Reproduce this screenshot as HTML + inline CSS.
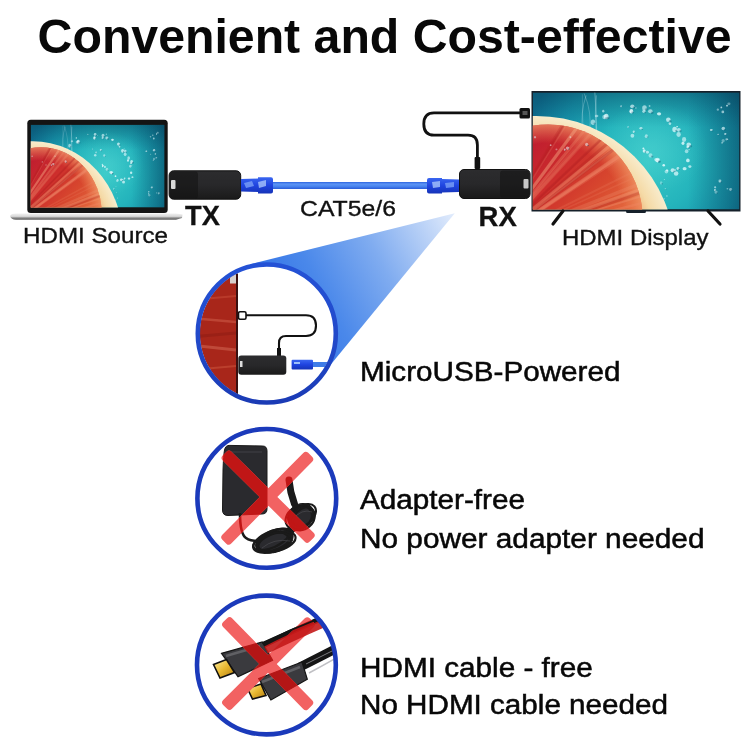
<!DOCTYPE html>
<html><head><meta charset="utf-8">
<style>
html,body{margin:0;padding:0;background:#fff;width:750px;height:750px;overflow:hidden}
svg{display:block;filter:blur(0.45px)}
text{font-family:"Liberation Sans",sans-serif}
</style></head>
<body>
<svg width="750" height="750" viewBox="0 0 750 750">
<defs>
  <radialGradient id="teal" gradientUnits="userSpaceOnUse" cx="115" cy="70" r="125">
    <stop offset="0" stop-color="#36c8c6"/>
    <stop offset="0.4" stop-color="#24b4bc"/>
    <stop offset="0.75" stop-color="#1692aa"/>
    <stop offset="1" stop-color="#0e6e90"/>
  </radialGradient>
  <linearGradient id="tealdark" x1="0" y1="0" x2="0" y2="1">
    <stop offset="0" stop-color="#05324a" stop-opacity="0.35"/>
    <stop offset="0.3" stop-color="#06455f" stop-opacity="0"/>
  </linearGradient>
  <linearGradient id="tealdarkR" x1="0" y1="0" x2="1" y2="0">
    <stop offset="0.75" stop-color="#06455f" stop-opacity="0"/>
    <stop offset="1" stop-color="#05324a" stop-opacity="0.4"/>
  </linearGradient>
  <radialGradient id="rind" gradientUnits="userSpaceOnUse" cx="3.5" cy="162.5" r="139">
    <stop offset="0.82" stop-color="#f0c088"/>
    <stop offset="0.88" stop-color="#f5daa6"/>
    <stop offset="1" stop-color="#f8eccc"/>
  </radialGradient>
  <linearGradient id="flesh" gradientUnits="userSpaceOnUse" x1="0" y1="35" x2="90" y2="117">
    <stop offset="0" stop-color="#bc1a30"/>
    <stop offset="0.4" stop-color="#cc2c2c"/>
    <stop offset="0.75" stop-color="#d8482e"/>
    <stop offset="1" stop-color="#e2643c"/>
  </linearGradient>
  <radialGradient id="fleshedge" gradientUnits="userSpaceOnUse" cx="15.5" cy="126.5" r="94.5">
    <stop offset="0.8" stop-color="#f08858" stop-opacity="0"/>
    <stop offset="1" stop-color="#f29a68" stop-opacity="0.7"/>
  </radialGradient>
  <radialGradient id="glow">
    <stop offset="0" stop-color="#5ad8d8" stop-opacity="0.35"/>
    <stop offset="1" stop-color="#5ad8d8" stop-opacity="0"/>
  </radialGradient>
  <clipPath id="fleshclip"><circle cx="15.5" cy="126.5" r="94.5"/></clipPath>
  <linearGradient id="cone" x1="455" y1="214" x2="262" y2="318" gradientUnits="userSpaceOnUse">
    <stop offset="0" stop-color="#e2ecfc"/>
    <stop offset="0.15" stop-color="#bcd3f7"/>
    <stop offset="0.4" stop-color="#80acf0"/>
    <stop offset="0.7" stop-color="#4a88ea"/>
    <stop offset="1" stop-color="#2e6ee6"/>
  </linearGradient>
  <linearGradient id="ring1" gradientUnits="userSpaceOnUse" x1="0" y1="262" x2="0" y2="405">
    <stop offset="0" stop-color="#2452d6"/>
    <stop offset="0.6" stop-color="#2148c8"/>
    <stop offset="1" stop-color="#1a3ab4"/>
  </linearGradient>
  <linearGradient id="box" x1="0" y1="0" x2="0" y2="1">
    <stop offset="0" stop-color="#2c2c2e"/>
    <stop offset="0.5" stop-color="#28282a"/>
    <stop offset="1" stop-color="#1a1a1a"/>
  </linearGradient>
  <linearGradient id="base" x1="0" y1="0" x2="0" y2="1">
    <stop offset="0" stop-color="#f0f0f0"/>
    <stop offset="0.45" stop-color="#d8d8d8"/>
    <stop offset="0.7" stop-color="#8a8a8a"/>
    <stop offset="1" stop-color="#5a5a5a"/>
  </linearGradient>
  <linearGradient id="rj" x1="0" y1="0" x2="0" y2="1">
    <stop offset="0" stop-color="#3a66f0"/>
    <stop offset="0.5" stop-color="#1f44e0"/>
    <stop offset="1" stop-color="#1634b8"/>
  </linearGradient>
  <linearGradient id="cab" x1="0" y1="0" x2="0" y2="1">
    <stop offset="0" stop-color="#2c64e0"/>
    <stop offset="0.3" stop-color="#5c94f4"/>
    <stop offset="0.6" stop-color="#4a86f0"/>
    <stop offset="1" stop-color="#2a5cd8"/>
  </linearGradient>
  <linearGradient id="gold" x1="0" y1="0" x2="1" y2="1">
    <stop offset="0" stop-color="#fff0a0"/>
    <stop offset="0.5" stop-color="#e8b830"/>
    <stop offset="1" stop-color="#b07a10"/>
  </linearGradient>
  <g id="pic">
<rect x="0" y="0" width="207" height="117.5" fill="url(#teal)"/>
<rect x="0" y="0" width="207" height="117.5" fill="url(#tealdark)"/>
<rect x="0" y="0" width="207" height="117.5" fill="url(#tealdarkR)"/>
<ellipse cx="120" cy="55" rx="55" ry="45" fill="url(#glow)"/>
<ellipse cx="73.6" cy="24.1" rx="2.3" ry="2.8" fill="#eafcff" fill-opacity="0.75"/>
<ellipse cx="75.5" cy="25.5" rx="1.4" ry="1.2" fill="#074a66" fill-opacity="0.35"/>
<ellipse cx="71.8" cy="24.5" rx="2.2" ry="2.2" fill="#eafcff" fill-opacity="0.50"/>
<ellipse cx="73.6" cy="25.9" rx="1.3" ry="1.1" fill="#074a66" fill-opacity="0.35"/>
<ellipse cx="70.6" cy="18.7" rx="1.1" ry="1.4" fill="#eafcff" fill-opacity="0.56"/>
<ellipse cx="63.9" cy="23.5" rx="1.8" ry="1.3" fill="#eafcff" fill-opacity="0.50"/>
<ellipse cx="60.3" cy="29.8" rx="2.2" ry="2.7" fill="#eafcff" fill-opacity="0.57"/>
<ellipse cx="62.1" cy="31.1" rx="1.3" ry="1.1" fill="#074a66" fill-opacity="0.35"/>
<ellipse cx="98.7" cy="18.8" rx="1.9" ry="2.3" fill="#eafcff" fill-opacity="0.84"/>
<ellipse cx="100.2" cy="20.0" rx="1.1" ry="1.0" fill="#074a66" fill-opacity="0.35"/>
<ellipse cx="88.5" cy="13.7" rx="0.9" ry="1.0" fill="#eafcff" fill-opacity="0.57"/>
<ellipse cx="89.2" cy="14.3" rx="0.5" ry="0.5" fill="#074a66" fill-opacity="0.35"/>
<ellipse cx="99.7" cy="13.8" rx="2.1" ry="1.9" fill="#eafcff" fill-opacity="0.64"/>
<ellipse cx="101.4" cy="15.0" rx="1.3" ry="1.1" fill="#074a66" fill-opacity="0.35"/>
<ellipse cx="98.3" cy="19.0" rx="0.8" ry="1.0" fill="#eafcff" fill-opacity="0.75"/>
<ellipse cx="99.0" cy="19.5" rx="0.5" ry="0.4" fill="#074a66" fill-opacity="0.35"/>
<ellipse cx="103.3" cy="15.5" rx="0.8" ry="0.7" fill="#eafcff" fill-opacity="0.47"/>
<ellipse cx="117.8" cy="18.8" rx="2.3" ry="2.1" fill="#eafcff" fill-opacity="0.59"/>
<ellipse cx="119.6" cy="20.2" rx="1.4" ry="1.2" fill="#074a66" fill-opacity="0.35"/>
<ellipse cx="126.5" cy="21.4" rx="2.1" ry="1.6" fill="#eafcff" fill-opacity="0.79"/>
<ellipse cx="111.9" cy="15.5" rx="2.3" ry="2.8" fill="#eafcff" fill-opacity="0.59"/>
<ellipse cx="113.7" cy="16.9" rx="1.4" ry="1.1" fill="#074a66" fill-opacity="0.35"/>
<ellipse cx="117.0" cy="13.6" rx="0.9" ry="1.0" fill="#eafcff" fill-opacity="0.51"/>
<ellipse cx="111.3" cy="19.0" rx="1.7" ry="1.4" fill="#eafcff" fill-opacity="0.61"/>
<ellipse cx="112.6" cy="20.0" rx="1.0" ry="0.8" fill="#074a66" fill-opacity="0.35"/>
<ellipse cx="144.6" cy="34.4" rx="0.9" ry="0.7" fill="#eafcff" fill-opacity="0.82"/>
<ellipse cx="145.3" cy="35.0" rx="0.5" ry="0.4" fill="#074a66" fill-opacity="0.35"/>
<ellipse cx="142.1" cy="37.1" rx="2.3" ry="2.7" fill="#eafcff" fill-opacity="0.70"/>
<ellipse cx="144.0" cy="38.5" rx="1.4" ry="1.2" fill="#074a66" fill-opacity="0.35"/>
<ellipse cx="137.4" cy="31.1" rx="1.3" ry="1.6" fill="#eafcff" fill-opacity="0.63"/>
<ellipse cx="146.3" cy="37.5" rx="2.0" ry="1.8" fill="#eafcff" fill-opacity="0.64"/>
<ellipse cx="147.9" cy="38.7" rx="1.2" ry="1.0" fill="#074a66" fill-opacity="0.35"/>
<ellipse cx="135.8" cy="27.4" rx="2.3" ry="2.3" fill="#eafcff" fill-opacity="0.70"/>
<ellipse cx="137.6" cy="28.8" rx="1.4" ry="1.2" fill="#074a66" fill-opacity="0.35"/>
<ellipse cx="146.1" cy="42.1" rx="2.2" ry="2.5" fill="#eafcff" fill-opacity="0.59"/>
<ellipse cx="155.3" cy="54.7" rx="1.4" ry="1.2" fill="#eafcff" fill-opacity="0.73"/>
<ellipse cx="156.4" cy="55.5" rx="0.8" ry="0.7" fill="#074a66" fill-opacity="0.35"/>
<ellipse cx="156.2" cy="52.5" rx="2.3" ry="2.4" fill="#eafcff" fill-opacity="0.71"/>
<ellipse cx="158.1" cy="53.9" rx="1.4" ry="1.2" fill="#074a66" fill-opacity="0.35"/>
<ellipse cx="150.5" cy="50.9" rx="1.5" ry="1.7" fill="#eafcff" fill-opacity="0.78"/>
<ellipse cx="151.6" cy="47.2" rx="2.1" ry="2.5" fill="#eafcff" fill-opacity="0.59"/>
<ellipse cx="157.4" cy="74.4" rx="1.6" ry="1.4" fill="#eafcff" fill-opacity="0.66"/>
<ellipse cx="152.1" cy="76.5" rx="2.0" ry="1.6" fill="#eafcff" fill-opacity="0.74"/>
<ellipse cx="155.4" cy="68.2" rx="1.8" ry="1.9" fill="#eafcff" fill-opacity="0.76"/>
<ellipse cx="154.1" cy="59.0" rx="1.8" ry="2.0" fill="#eafcff" fill-opacity="0.54"/>
<ellipse cx="156.6" cy="57.5" rx="0.9" ry="0.8" fill="#eafcff" fill-opacity="0.50"/>
<ellipse cx="157.3" cy="58.1" rx="0.5" ry="0.4" fill="#074a66" fill-opacity="0.35"/>
<ellipse cx="145.4" cy="76.3" rx="1.4" ry="1.5" fill="#eafcff" fill-opacity="0.69"/>
<ellipse cx="146.5" cy="77.1" rx="0.8" ry="0.7" fill="#074a66" fill-opacity="0.35"/>
<ellipse cx="134.5" cy="78.0" rx="1.2" ry="1.0" fill="#eafcff" fill-opacity="0.61"/>
<ellipse cx="142.7" cy="78.0" rx="1.0" ry="0.9" fill="#eafcff" fill-opacity="0.67"/>
<ellipse cx="143.4" cy="78.6" rx="0.6" ry="0.5" fill="#074a66" fill-opacity="0.35"/>
<ellipse cx="140.2" cy="78.2" rx="2.1" ry="2.0" fill="#eafcff" fill-opacity="0.71"/>
<ellipse cx="141.9" cy="79.5" rx="1.3" ry="1.1" fill="#074a66" fill-opacity="0.35"/>
<ellipse cx="143.6" cy="81.4" rx="2.3" ry="2.2" fill="#eafcff" fill-opacity="0.69"/>
<ellipse cx="133.9" cy="79.5" rx="1.8" ry="1.9" fill="#eafcff" fill-opacity="0.51"/>
<ellipse cx="131.2" cy="73.1" rx="1.3" ry="1.2" fill="#eafcff" fill-opacity="0.84"/>
<ellipse cx="125.0" cy="67.9" rx="2.4" ry="2.3" fill="#eafcff" fill-opacity="0.65"/>
<ellipse cx="126.9" cy="69.4" rx="1.4" ry="1.2" fill="#074a66" fill-opacity="0.35"/>
<ellipse cx="123.2" cy="67.4" rx="1.6" ry="1.7" fill="#eafcff" fill-opacity="0.50"/>
<ellipse cx="124.4" cy="68.4" rx="0.9" ry="0.8" fill="#074a66" fill-opacity="0.35"/>
<ellipse cx="135.2" cy="78.7" rx="0.8" ry="0.7" fill="#eafcff" fill-opacity="0.66"/>
<ellipse cx="110.8" cy="56.2" rx="1.0" ry="0.9" fill="#eafcff" fill-opacity="0.85"/>
<ellipse cx="118.0" cy="63.2" rx="2.0" ry="2.2" fill="#eafcff" fill-opacity="0.50"/>
<ellipse cx="119.6" cy="64.4" rx="1.2" ry="1.0" fill="#074a66" fill-opacity="0.35"/>
<ellipse cx="114.8" cy="59.9" rx="1.6" ry="1.5" fill="#eafcff" fill-opacity="0.64"/>
<ellipse cx="111.6" cy="58.7" rx="1.5" ry="1.8" fill="#eafcff" fill-opacity="0.82"/>
<ellipse cx="112.8" cy="59.7" rx="0.9" ry="0.8" fill="#074a66" fill-opacity="0.35"/>
<ellipse cx="125.0" cy="68.2" rx="1.7" ry="1.8" fill="#eafcff" fill-opacity="0.73"/>
<ellipse cx="126.4" cy="69.3" rx="1.0" ry="0.9" fill="#074a66" fill-opacity="0.35"/>
<ellipse cx="192.9" cy="41.6" rx="1.2" ry="1.0" fill="#eafcff" fill-opacity="0.69"/>
<ellipse cx="193.8" cy="42.3" rx="0.7" ry="0.6" fill="#074a66" fill-opacity="0.35"/>
<ellipse cx="190.9" cy="36.1" rx="1.8" ry="1.7" fill="#eafcff" fill-opacity="0.63"/>
<ellipse cx="192.4" cy="37.2" rx="1.1" ry="0.9" fill="#074a66" fill-opacity="0.35"/>
<ellipse cx="189.7" cy="50.5" rx="0.9" ry="0.9" fill="#eafcff" fill-opacity="0.54"/>
<ellipse cx="190.4" cy="51.0" rx="0.5" ry="0.4" fill="#074a66" fill-opacity="0.35"/>
<ellipse cx="178.9" cy="37.6" rx="1.5" ry="1.1" fill="#eafcff" fill-opacity="0.67"/>
<ellipse cx="180.1" cy="38.5" rx="0.9" ry="0.7" fill="#074a66" fill-opacity="0.35"/>
<ellipse cx="190.7" cy="48.5" rx="1.6" ry="1.7" fill="#eafcff" fill-opacity="0.36"/>
<ellipse cx="195.0" cy="46.9" rx="0.8" ry="0.7" fill="#eafcff" fill-opacity="0.69"/>
<ellipse cx="193.9" cy="47.1" rx="0.9" ry="1.1" fill="#eafcff" fill-opacity="0.47"/>
<ellipse cx="194.6" cy="47.6" rx="0.5" ry="0.4" fill="#074a66" fill-opacity="0.35"/>
<ellipse cx="185.7" cy="42.0" rx="0.9" ry="0.7" fill="#eafcff" fill-opacity="0.60"/>
<ellipse cx="186.4" cy="42.6" rx="0.5" ry="0.5" fill="#074a66" fill-opacity="0.35"/>
<ellipse cx="187.6" cy="89.2" rx="0.8" ry="0.9" fill="#eafcff" fill-opacity="0.58"/>
<ellipse cx="182.7" cy="95.3" rx="1.1" ry="1.1" fill="#eafcff" fill-opacity="0.59"/>
<ellipse cx="187.5" cy="88.9" rx="1.6" ry="1.7" fill="#eafcff" fill-opacity="0.41"/>
<ellipse cx="188.8" cy="89.9" rx="1.0" ry="0.8" fill="#074a66" fill-opacity="0.35"/>
<ellipse cx="198.2" cy="97.4" rx="1.5" ry="1.5" fill="#eafcff" fill-opacity="0.46"/>
<ellipse cx="199.4" cy="98.3" rx="0.9" ry="0.8" fill="#074a66" fill-opacity="0.35"/>
<ellipse cx="195.0" cy="96.8" rx="0.9" ry="0.8" fill="#eafcff" fill-opacity="0.44"/>
<ellipse cx="183.6" cy="100.1" rx="1.6" ry="1.7" fill="#eafcff" fill-opacity="0.38"/>
<ellipse cx="184.8" cy="101.1" rx="0.9" ry="0.8" fill="#074a66" fill-opacity="0.35"/>
<ellipse cx="182.5" cy="98.1" rx="1.0" ry="1.0" fill="#eafcff" fill-opacity="0.70"/>
<ellipse cx="183.3" cy="98.7" rx="0.6" ry="0.5" fill="#074a66" fill-opacity="0.35"/>
<ellipse cx="196.5" cy="11.3" rx="1.6" ry="1.4" fill="#eafcff" fill-opacity="0.37"/>
<ellipse cx="194.6" cy="13.2" rx="0.9" ry="0.9" fill="#eafcff" fill-opacity="0.74"/>
<ellipse cx="185.4" cy="17.2" rx="1.2" ry="1.1" fill="#eafcff" fill-opacity="0.44"/>
<ellipse cx="188.9" cy="14.9" rx="0.9" ry="0.9" fill="#eafcff" fill-opacity="0.68"/>
<ellipse cx="190.4" cy="19.5" rx="1.4" ry="1.4" fill="#eafcff" fill-opacity="0.59"/>
<ellipse cx="131.9" cy="87.4" rx="0.7" ry="0.6" fill="#eafcff" fill-opacity="0.43"/>
<ellipse cx="134.4" cy="104.0" rx="0.7" ry="0.8" fill="#eafcff" fill-opacity="0.54"/>
<ellipse cx="132.9" cy="96.6" rx="0.8" ry="0.7" fill="#eafcff" fill-opacity="0.41"/>
<ellipse cx="133.5" cy="97.1" rx="0.5" ry="0.4" fill="#074a66" fill-opacity="0.35"/>
<ellipse cx="131.6" cy="107.0" rx="0.9" ry="0.8" fill="#eafcff" fill-opacity="0.45"/>
<ellipse cx="132.3" cy="107.5" rx="0.5" ry="0.4" fill="#074a66" fill-opacity="0.35"/>
<ellipse cx="128.6" cy="90.9" rx="1.3" ry="1.6" fill="#eafcff" fill-opacity="0.36"/>
<ellipse cx="129.7" cy="91.7" rx="0.8" ry="0.7" fill="#074a66" fill-opacity="0.35"/>
<ellipse cx="113.8" cy="43.8" rx="1.6" ry="1.9" fill="#eafcff" fill-opacity="0.54"/>
<ellipse cx="115.0" cy="44.7" rx="0.9" ry="0.8" fill="#074a66" fill-opacity="0.35"/>
<ellipse cx="108.4" cy="35.8" rx="1.6" ry="1.3" fill="#eafcff" fill-opacity="0.64"/>
<ellipse cx="109.6" cy="36.8" rx="0.9" ry="0.8" fill="#074a66" fill-opacity="0.35"/>
<ellipse cx="95.5" cy="34.6" rx="0.8" ry="1.0" fill="#eafcff" fill-opacity="0.51"/>
<ellipse cx="96.1" cy="35.1" rx="0.5" ry="0.4" fill="#074a66" fill-opacity="0.35"/>
<ellipse cx="101.2" cy="39.4" rx="1.1" ry="1.2" fill="#eafcff" fill-opacity="0.64"/>
<ellipse cx="102.1" cy="40.0" rx="0.6" ry="0.5" fill="#074a66" fill-opacity="0.35"/>
<ellipse cx="99.8" cy="43.4" rx="1.9" ry="1.9" fill="#eafcff" fill-opacity="0.61"/>
<path d="M50.1,40 Q47.5,20 53.4,2.9" fill="none" stroke="#e8fbff" stroke-opacity="0.26" stroke-width="1.0"/>
<path d="M63.9,40 Q64.0,20 62.1,-0.9" fill="none" stroke="#e8fbff" stroke-opacity="0.27" stroke-width="1.2"/>
<path d="M56.9,40 Q59.5,20 51.5,0.9" fill="none" stroke="#e8fbff" stroke-opacity="0.26" stroke-width="0.9"/>
<path d="M50.8,40 Q49.4,20 49.7,1.7" fill="none" stroke="#e8fbff" stroke-opacity="0.26" stroke-width="0.6"/>
<path d="M63.6,40 Q61.7,20 63.7,2.8" fill="none" stroke="#e8fbff" stroke-opacity="0.38" stroke-width="0.7"/>
<circle cx="3.5" cy="162.5" r="139" fill="url(#rind)"/>
<circle cx="15.5" cy="126.5" r="94.5" fill="url(#flesh)"/>
<circle cx="15.5" cy="126.5" r="94.5" fill="url(#fleshedge)"/>
<g clip-path="url(#fleshclip)">
<line x1="-16.2" y1="131.8" x2="118.9" y2="28.5" stroke="#f49a78" stroke-width="1.7" stroke-opacity="0.35"/>
<line x1="-20.1" y1="127.6" x2="92.9" y2="0.6" stroke="#f49a78" stroke-width="3.6" stroke-opacity="0.19"/>
<line x1="-24.4" y1="124.4" x2="63.8" y2="-21.0" stroke="#b01c20" stroke-width="2.4" stroke-opacity="0.23"/>
<line x1="-10.1" y1="147.5" x2="159.3" y2="133.6" stroke="#b01c20" stroke-width="3.1" stroke-opacity="0.30"/>
<line x1="-10.2" y1="153.0" x2="159.0" y2="170.0" stroke="#f6a884" stroke-width="3.2" stroke-opacity="0.33"/>
<line x1="-10.7" y1="156.2" x2="155.6" y2="191.5" stroke="#b01c20" stroke-width="1.8" stroke-opacity="0.21"/>
<line x1="-22.2" y1="125.8" x2="78.4" y2="-11.2" stroke="#f6a884" stroke-width="3.5" stroke-opacity="0.21"/>
<line x1="-21.0" y1="126.8" x2="86.8" y2="-4.7" stroke="#f49a78" stroke-width="2.7" stroke-opacity="0.29"/>
<line x1="-10.0" y1="148.7" x2="159.8" y2="141.3" stroke="#b01c20" stroke-width="3.2" stroke-opacity="0.21"/>
<line x1="-12.7" y1="137.5" x2="142.0" y2="67.0" stroke="#f08a68" stroke-width="1.6" stroke-opacity="0.19"/>
<line x1="-16.8" y1="131.0" x2="114.5" y2="23.0" stroke="#f6a884" stroke-width="3.7" stroke-opacity="0.16"/>
<line x1="-10.1" y1="147.6" x2="159.4" y2="134.0" stroke="#a01418" stroke-width="3.4" stroke-opacity="0.26"/>
<line x1="-10.1" y1="152.4" x2="159.4" y2="165.8" stroke="#f08a68" stroke-width="2.9" stroke-opacity="0.24"/>
<line x1="-10.0" y1="149.4" x2="160.0" y2="145.8" stroke="#f49a78" stroke-width="3.3" stroke-opacity="0.29"/>
<line x1="-17.3" y1="130.4" x2="111.6" y2="19.5" stroke="#a01418" stroke-width="2.9" stroke-opacity="0.21"/>
<line x1="-16.3" y1="131.6" x2="117.7" y2="27.0" stroke="#f08a68" stroke-width="2.2" stroke-opacity="0.29"/>
<line x1="-16.8" y1="130.9" x2="114.5" y2="22.9" stroke="#f49a78" stroke-width="2.9" stroke-opacity="0.30"/>
<line x1="-24.1" y1="124.6" x2="66.0" y2="-19.6" stroke="#f49a78" stroke-width="1.6" stroke-opacity="0.18"/>
<line x1="-15.2" y1="133.1" x2="125.2" y2="37.3" stroke="#f6a884" stroke-width="3.9" stroke-opacity="0.27"/>
<line x1="-18.2" y1="129.4" x2="105.4" y2="12.7" stroke="#a01418" stroke-width="1.8" stroke-opacity="0.19"/>
<line x1="-15.2" y1="133.1" x2="125.4" y2="37.6" stroke="#f08a68" stroke-width="3.0" stroke-opacity="0.32"/>
<line x1="-10.3" y1="146.0" x2="158.2" y2="123.3" stroke="#f49a78" stroke-width="2.2" stroke-opacity="0.27"/>
<line x1="-11.0" y1="142.4" x2="153.5" y2="99.6" stroke="#f08a68" stroke-width="2.6" stroke-opacity="0.34"/>
<line x1="-10.0" y1="148.5" x2="159.8" y2="140.3" stroke="#f49a78" stroke-width="2.3" stroke-opacity="0.24"/>
<line x1="-18.3" y1="129.3" x2="104.9" y2="12.2" stroke="#b01c20" stroke-width="2.6" stroke-opacity="0.24"/>
<line x1="-10.1" y1="147.5" x2="159.3" y2="133.5" stroke="#f08a68" stroke-width="2.8" stroke-opacity="0.34"/>
<line x1="-11.3" y1="141.2" x2="151.2" y2="91.2" stroke="#f49a78" stroke-width="1.8" stroke-opacity="0.32"/>
<line x1="-10.5" y1="144.5" x2="156.6" y2="113.1" stroke="#f08a68" stroke-width="3.9" stroke-opacity="0.16"/>
<line x1="-11.5" y1="140.5" x2="149.7" y2="86.7" stroke="#a01418" stroke-width="3.3" stroke-opacity="0.22"/>
<line x1="-13.2" y1="136.6" x2="138.9" y2="60.5" stroke="#f08a68" stroke-width="2.2" stroke-opacity="0.19"/>
<line x1="-11.7" y1="140.0" x2="148.5" y2="83.2" stroke="#f6a884" stroke-width="3.4" stroke-opacity="0.31"/>
<line x1="-15.0" y1="133.4" x2="126.6" y2="39.3" stroke="#f08a68" stroke-width="3.5" stroke-opacity="0.28"/>
<line x1="-10.1" y1="152.8" x2="159.1" y2="168.8" stroke="#f49a78" stroke-width="3.0" stroke-opacity="0.23"/>
<line x1="-20.6" y1="127.1" x2="89.4" y2="-2.5" stroke="#f08a68" stroke-width="2.7" stroke-opacity="0.16"/>
<line x1="-19.8" y1="127.8" x2="94.4" y2="1.9" stroke="#f49a78" stroke-width="3.4" stroke-opacity="0.21"/>
<line x1="-10.2" y1="153.3" x2="158.8" y2="172.0" stroke="#f6a884" stroke-width="2.7" stroke-opacity="0.24"/>
<line x1="-12.1" y1="139.0" x2="146.0" y2="76.5" stroke="#f49a78" stroke-width="3.5" stroke-opacity="0.23"/>
<line x1="-24.7" y1="124.2" x2="62.2" y2="-21.9" stroke="#b01c20" stroke-width="3.0" stroke-opacity="0.27"/>
<line x1="-10.0" y1="149.2" x2="159.9" y2="145.0" stroke="#f49a78" stroke-width="2.3" stroke-opacity="0.16"/>
<line x1="-16.2" y1="131.7" x2="118.6" y2="28.2" stroke="#a01418" stroke-width="2.8" stroke-opacity="0.26"/>
<line x1="-10.5" y1="144.6" x2="156.8" y2="114.3" stroke="#a01418" stroke-width="4.0" stroke-opacity="0.31"/>
<line x1="-10.2" y1="153.4" x2="158.7" y2="172.7" stroke="#b01c20" stroke-width="3.2" stroke-opacity="0.26"/>
<line x1="-10.0" y1="148.7" x2="159.8" y2="141.3" stroke="#f6a884" stroke-width="3.9" stroke-opacity="0.15"/>
<line x1="-10.1" y1="147.6" x2="159.4" y2="134.1" stroke="#f08a68" stroke-width="2.2" stroke-opacity="0.17"/>
<line x1="-22.2" y1="125.8" x2="78.4" y2="-11.2" stroke="#f6a884" stroke-width="3.0" stroke-opacity="0.32"/>
<line x1="-10.3" y1="154.0" x2="158.2" y2="177.0" stroke="#a01418" stroke-width="2.3" stroke-opacity="0.34"/>
<ellipse cx="17.9" cy="52.9" rx="0.9" ry="0.9" fill="#eafcff" fill-opacity="0.53"/>
<ellipse cx="54.0" cy="52.2" rx="1.6" ry="1.7" fill="#eafcff" fill-opacity="0.52"/>
<ellipse cx="55.3" cy="53.2" rx="1.0" ry="0.8" fill="#074a66" fill-opacity="0.35"/>
<ellipse cx="32.0" cy="57.4" rx="1.0" ry="1.1" fill="#eafcff" fill-opacity="0.59"/>
<ellipse cx="32.8" cy="58.0" rx="0.6" ry="0.5" fill="#074a66" fill-opacity="0.35"/>
<ellipse cx="2.2" cy="44.8" rx="1.0" ry="1.2" fill="#eafcff" fill-opacity="0.50"/>
<ellipse cx="37.6" cy="44.7" rx="0.9" ry="0.9" fill="#eafcff" fill-opacity="0.51"/>
<ellipse cx="23.7" cy="57.2" rx="1.0" ry="0.9" fill="#eafcff" fill-opacity="0.39"/>
<ellipse cx="54.0" cy="39.2" rx="1.4" ry="1.2" fill="#eafcff" fill-opacity="0.53"/>
<ellipse cx="55.2" cy="40.0" rx="0.9" ry="0.7" fill="#074a66" fill-opacity="0.35"/>
<ellipse cx="34.8" cy="55.8" rx="1.7" ry="1.6" fill="#eafcff" fill-opacity="0.52"/>
<ellipse cx="36.2" cy="56.8" rx="1.0" ry="0.8" fill="#074a66" fill-opacity="0.35"/>
</g>
  </g>
  <clipPath id="lapclip"><rect x="0" y="0" width="207" height="117.5"/></clipPath>
  <clipPath id="c1clip"><circle cx="266.8" cy="333.5" r="67"/></clipPath>
  <clipPath id="c2clip"><circle cx="266.8" cy="498.4" r="68"/></clipPath>
  <clipPath id="c3clip"><circle cx="266.4" cy="665" r="68"/></clipPath>
  <mask id="x2mask" maskUnits="userSpaceOnUse" x="0" y="0" width="750" height="750">
    <g fill="#fff">
  <rect x="-61.22" y="-6.25" width="122.44" height="12.5" rx="3.5" transform="translate(268.15 496.65) rotate(44.64)"/>
  <rect x="-61.08" y="-6.25" width="122.16" height="12.5" rx="3.5" transform="translate(267.25 498.25) rotate(134.64)"/>
</g>
  </mask>
  <mask id="x3mask" maskUnits="userSpaceOnUse" x="0" y="0" width="750" height="750">
    <g fill="#fff">
  <rect x="-60.87" y="-6.25" width="121.74" height="12.5" rx="3.5" transform="translate(267.65 663.65) rotate(45.73)"/>
  <rect x="-61.22" y="-6.25" width="122.44" height="12.5" rx="3.5" transform="translate(268.40 663.60) rotate(135.00)"/>
</g>
  </mask>
  <g id="adapter">
    <path d="M229,445.4 L262.5,446 Q267,446 267,451 L267,509 Q267,514 262,514 L228,515.5 Q222.5,515.5 222.5,510 L223,470 Q223.5,455 224.5,450 Q225.5,445.4 229,445.4Z"/>
    <path d="M240,513 Q240,534 246,538 Q250,541 258,541" fill="none" stroke-width="2.6"/>
    <ellipse cx="275" cy="541.5" rx="18.5" ry="10.5" transform="rotate(-18 275 541.5)"/>
    <ellipse cx="300.5" cy="516" rx="14" ry="11.5" transform="rotate(-40 300.5 516)"/>
    <path d="M286,536 L296,524" fill="none" stroke-width="8"/>
    <ellipse cx="272.4" cy="542.2" rx="16.8" ry="9.4" transform="rotate(-16.7 272.4 542.2)" fill="none" stroke-width="2.2"/>
    <ellipse cx="271.4" cy="539.6" rx="19.2" ry="8.0" transform="rotate(-23.8 271.4 539.6)" fill="none" stroke-width="2.2"/>
    <ellipse cx="277.0" cy="541.9" rx="19.2" ry="8.9" transform="rotate(-16.5 277.0 541.9)" fill="none" stroke-width="2.2"/>
    <ellipse cx="271.9" cy="542.7" rx="19.3" ry="9.1" transform="rotate(-14.7 271.9 542.7)" fill="none" stroke-width="2.2"/>
    <ellipse cx="275.0" cy="539.8" rx="18.8" ry="9.4" transform="rotate(-22.6 275.0 539.8)" fill="none" stroke-width="2.2"/>
    <ellipse cx="298.7" cy="517.8" rx="13.9" ry="10.9" transform="rotate(-32.4 298.7 517.8)" fill="none" stroke-width="2.2"/>
    <ellipse cx="302.1" cy="518.1" rx="13.6" ry="11.2" transform="rotate(-41.1 302.1 518.1)" fill="none" stroke-width="2.2"/>
    <ellipse cx="303.2" cy="517.9" rx="12.4" ry="8.5" transform="rotate(-45.7 303.2 517.9)" fill="none" stroke-width="2.2"/>
    <ellipse cx="303.3" cy="515.7" rx="14.5" ry="9.2" transform="rotate(-39.9 303.3 515.7)" fill="none" stroke-width="2.2"/>
    <path d="M289,480 Q290,492 294.5,504" fill="none" stroke-width="7" stroke-linecap="round"/>
  </g>
  <g id="hdmi">
    <path d="M262,646 Q290,632 318,620 L345,607" fill="none" stroke-width="5.5"/>
    <path d="M300,667 Q318,658 345,644" fill="none" stroke-width="9"/>
    <path d="M221.5,653.3 L262.2,642 L272.6,660.3 L238,676.7 Z" stroke-width="1.2"/>
    <path d="M258.7,678.5 L302,662 L307.3,679.3 L270.9,700 Z" stroke-width="1.2"/>
  </g>
</defs>

<!-- Title -->
<text x="37.6" y="52.5" font-size="48" font-weight="bold" fill="#080808" textLength="694" lengthAdjust="spacingAndGlyphs">Convenient and Cost-effective</text>

<!-- Laptop -->
<rect x="27.3" y="119.8" width="140.4" height="93.2" rx="3.5" fill="#141414"/>
<g transform="translate(30.7 124.7) scale(0.6464 0.7047)">
  <g clip-path="url(#lapclip)"><use href="#pic"/></g>
</g>
<path d="M10,216 Q11.5,213.6 16,213.6 L176,213.6 L182.5,214.5 L182,218 L176,219.8 L16,219.8 Q11,219.5 10,216Z" fill="url(#base)"/>

<!-- TX box -->
<rect x="169.1" y="170.8" width="71.6" height="28.4" rx="4.5" fill="url(#box)" stroke="#121212" stroke-width="1"/>
<rect x="170" y="171.5" width="28" height="27" rx="3" fill="#141414" opacity="0.6"/>
<rect x="171" y="180" width="4.5" height="9" rx="1" fill="#d8d8d8"/>
<!-- left RJ45 -->
<path d="M241,179 L258,178.5 L258,177.3 L271,177.3 Q273,177.3 273,179.3 L273,191.4 Q273,193.4 271,193.4 L258,193.4 L258,192 L241,191.5Z" fill="url(#rj)"/>
<path d="M244,183 L252,181 L254,186 L246,188Z" fill="#7aa0f6" opacity="0.8"/>
<path d="M258,182 L266,180 L266,186 L259,188Z" fill="#a8c4fa" opacity="0.8"/>
<!-- cable -->
<rect x="273" y="182" width="156" height="7" fill="url(#cab)"/>
<!-- right RJ45 -->
<path d="M459,179.5 L442,179 L442,178 L429,178 Q427,178 427,180 L427,191.5 Q427,193.5 429,193.5 L442,193.5 L442,192.5 L459,192Z" fill="url(#rj)"/>
<path d="M432,182 L440,181 L440,187 L433,188Z" fill="#a8c4fa" opacity="0.8"/>
<path d="M445,183 L454,182 L454,187 L446,188Z" fill="#7aa0f6" opacity="0.8"/>
<!-- RX box -->
<rect x="459.5" y="169.5" width="70.6" height="29" rx="4.5" fill="url(#box)" stroke="#121212" stroke-width="1"/>
<rect x="500" y="170.5" width="29" height="27" rx="3" fill="#141414" opacity="0.6"/>
<rect x="523.5" y="179" width="5" height="9.5" rx="1" fill="#c8c8c8"/>
<!-- USB cable -->
<path d="M520,112.8 L434,112.8 Q423.8,112.8 423.8,124 Q423.8,135.2 434,135.2 L468,135.2 Q477.4,135.2 477.4,145 L477.4,160" fill="none" stroke="#111" stroke-width="2.8"/>
<rect x="519.5" y="108" width="10.5" height="10.4" rx="1.5" fill="#111"/>
<rect x="522.5" y="111" width="5" height="4" fill="#555"/>
<rect x="474.6" y="157" width="5.6" height="12" rx="1" fill="#111"/>

<!-- TV -->
<rect x="531.5" y="91" width="209" height="120.5" fill="#15202a"/>
<rect x="626" y="210" width="20" height="3" rx="1.5" fill="#15202a"/>
<g transform="translate(532.8 92.6) scale(0.998 0.994)">
  <g clip-path="url(#lapclip)"><use href="#pic"/></g>
</g>
<path d="M563,211 L553,224" stroke="#111" stroke-width="3.2" stroke-linecap="round"/>
<path d="M708,211 L720,224" stroke="#111" stroke-width="3.2" stroke-linecap="round"/>

<!-- labels -->
<g fill="#111" stroke="#111" stroke-width="0.35">
<text x="185" y="225" font-size="28.5" font-weight="bold" stroke-width="0.3" textLength="34.8" lengthAdjust="spacingAndGlyphs">TX</text>
<text x="478.6" y="225.6" font-size="28.5" font-weight="bold" stroke-width="0.3" textLength="38.2" lengthAdjust="spacingAndGlyphs">RX</text>
<text x="300" y="215.8" font-size="22.2" textLength="96" lengthAdjust="spacingAndGlyphs">CAT5e/6</text>
<text x="23" y="243.3" font-size="21.8" textLength="145" lengthAdjust="spacingAndGlyphs">HDMI Source</text>
<text x="562" y="244.8" font-size="21.8" textLength="146.5" lengthAdjust="spacingAndGlyphs">HDMI Display</text>
</g>

<!-- cone -->
<polygon points="454.8,213.2 250,264.2 326.3,370" fill="url(#cone)"/>

<!-- circle 1 -->
<circle cx="266.8" cy="333.5" r="68" fill="#fff"/>
<g clip-path="url(#c1clip)">
  <rect x="190" y="273.5" width="47.5" height="130" fill="#a8261a"/>
  <g stroke-opacity="0.3">
    <line x1="190" y1="300" x2="236" y2="296" stroke="#e06a50" stroke-width="2"/>
    <line x1="190" y1="318" x2="236" y2="322" stroke="#f08a70" stroke-width="2.5"/>
    <line x1="190" y1="337" x2="236" y2="333" stroke="#7a140c" stroke-width="3"/>
    <line x1="190" y1="345" x2="236" y2="350" stroke="#f49a80" stroke-width="3"/>
    <line x1="190" y1="370" x2="236" y2="366" stroke="#e87a5a" stroke-width="2"/>
  </g>
  <rect x="230" y="273.5" width="7" height="10" fill="#d8d0cc"/>
  <rect x="236" y="273.5" width="2" height="130" fill="#3a1010"/>
  <path d="M246,315.3 L306,315.3 Q316,315.3 316,325.6 Q316,336 306,336 L286,336 Q279,336 279,343 L279,352" fill="none" stroke="#111" stroke-width="2.1"/>
  <rect x="238.5" y="311.8" width="7.5" height="7.5" rx="1.5" fill="none" stroke="#111" stroke-width="1.6"/>
  <rect x="277" y="348" width="4" height="8" fill="#111"/>
  <rect x="238.3" y="355.5" width="48" height="19.2" rx="3" fill="url(#box)"/>
  <rect x="240" y="361" width="2.5" height="6" fill="#ddd"/>
  <rect x="291.6" y="359.8" width="21.4" height="9.6" rx="1" fill="url(#rj)"/>
  <rect x="294" y="362" width="6" height="2" fill="#9ec0fa"/>
  <rect x="313" y="362" width="24" height="5" fill="#3f7ce8"/>
</g>
<circle cx="266.8" cy="333.5" r="69" fill="none" stroke="url(#ring1)" stroke-width="4.6"/>

<!-- circle 2 -->
<g clip-path="url(#c2clip)">
  <use href="#adapter" fill="#2a2a2e" stroke="#1a1a1a"/>
  <g fill="none" stroke="#55555a" stroke-width="0.8" opacity="0.7">
    <path d="M230,452 L262,452"/>
    <path d="M262,548 Q274,538 290,541"/>
    <path d="M292,520 Q302,508 312,512"/>
  </g>
</g>
<g fill="#f26262">
  <rect x="-61.22" y="-6.25" width="122.44" height="12.5" rx="3.5" transform="translate(268.15 496.65) rotate(44.64)"/>
  <rect x="-61.08" y="-6.25" width="122.16" height="12.5" rx="3.5" transform="translate(267.25 498.25) rotate(134.64)"/>
</g>
<g mask="url(#x2mask)" clip-path="url(#c2clip)">
  <use href="#adapter" fill="#c01616" stroke="#c01616"/>
</g>
<circle cx="266.8" cy="498.4" r="69.4" fill="none" stroke="#1b3abb" stroke-width="4.6"/>

<!-- circle 3 -->
<g clip-path="url(#c3clip)">
  <use href="#hdmi" fill="#3a3a3e" stroke="#151515"/>
  <path d="M213.5,664.5 L226.5,659.5 L234.5,672.5 L220,678Z" fill="url(#gold)" stroke="#111" stroke-width="1.6"/>
  <path d="M247.5,688.5 L261,684 L266,695.5 L252.5,699Z" fill="url(#gold)" stroke="#111" stroke-width="1.6"/>
  <path d="M226,656 L260,646" stroke="#606064" stroke-width="2.5"/>
  <path d="M306,664 Q320,657 338,648" fill="none" stroke="#7a7a7e" stroke-width="1"/>
  <path d="M309,673 Q322,666 336,658" fill="none" stroke="#c0c0c4" stroke-width="1.6"/>
  <path d="M262,682 L300,667" stroke="#606064" stroke-width="2.5"/>
</g>
<g fill="#f26262">
  <rect x="-60.87" y="-6.25" width="121.74" height="12.5" rx="3.5" transform="translate(267.65 663.65) rotate(45.73)"/>
  <rect x="-61.22" y="-6.25" width="122.44" height="12.5" rx="3.5" transform="translate(268.40 663.60) rotate(135.00)"/>
</g>
<g mask="url(#x3mask)" clip-path="url(#c3clip)">
  <use href="#hdmi" fill="#b41616" stroke="#b41616"/>
</g>
<g clip-path="url(#c3clip)">
  <path d="M266,650 Q292,637 322,624" fill="none" stroke="#c41a1a" stroke-width="8" stroke-opacity="0.9"/>
  <path d="M262,643 Q290,630 318,619" fill="none" stroke="#141414" stroke-width="1.8"/>
</g>
<circle cx="266.4" cy="665" r="69.4" fill="none" stroke="#1b3abb" stroke-width="4.6"/>

<!-- body texts -->
<g font-size="27" fill="#080808" stroke="#080808" stroke-width="0.5">
  <text x="360" y="381" textLength="260.5" lengthAdjust="spacingAndGlyphs">MicroUSB-Powered</text>
  <text x="360" y="508.6" textLength="165" lengthAdjust="spacingAndGlyphs">Adapter-free</text>
  <text x="360" y="548" textLength="344.5" lengthAdjust="spacingAndGlyphs">No power adapter needed</text>
  <text x="360" y="677" textLength="232.8" lengthAdjust="spacingAndGlyphs">HDMI cable - free</text>
  <text x="360" y="714.4" textLength="308" lengthAdjust="spacingAndGlyphs">No HDMI cable needed</text>
</g>
</svg>
</body></html>
